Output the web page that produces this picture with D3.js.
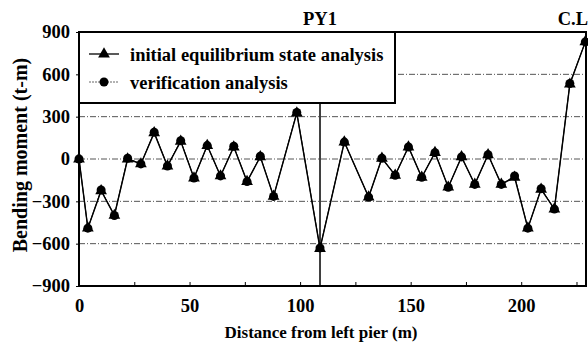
<!DOCTYPE html>
<html>
<head>
<meta charset="utf-8">
<script src="https://cdn.jsdelivr.net/npm/d3@7"></script>
<style>
 body { margin: 0; background: #fff; }
</style>
</head>
<body>
<div id="chart"></div>
<script>
const distance = [0, 4, 10, 16, 22, 28, 34, 40, 46, 52, 58, 64, 70, 76, 82, 88, 98.5, 109,
 120, 131, 137, 143, 149, 155, 161, 167, 173, 179, 185, 191, 197, 203, 209, 215, 222, 229];
const initialEq = [0, -490, -225, -400, 0, -35, 185, -50, 125, -135, 95, -120, 85, -160, 15, -265, 325, -635,
 120, -270, 5, -115, 85, -130, 45, -200, 15, -180, 30, -180, -130, -490, -215, -355, 530, 830];
const verification = [0, -490, -220, -400, 5, -35, 190, -50, 130, -135, 95, -120, 90, -160, 20, -265, 330, -630,
 120, -270, 5, -115, 85, -130, 45, -200, 15, -180, 30, -180, -120, -490, -210, -355, 535, 830];
const yTicks = [-900, -600, -300, 0, 300, 600, 900];
const xTicks = [0, 50, 100, 150, 200];
const legendLabels = ["initial equilibrium state analysis", "verification analysis"];
const pierX = 109;

const FONT = "'Liberation Serif', 'DejaVu Serif', serif";
const W = 588, H = 344;
const margin = { top: 32, right: 2, bottom: 58, left: 79 };
const width = W - margin.left - margin.right;
const height = H - margin.top - margin.bottom;

const svg = d3.select("#chart").append("svg").attr("width", W).attr("height", H);
const g = svg.append("g").attr("transform", `translate(${margin.left},${margin.top})`);

const x = d3.scaleLinear().domain([0, 229.3]).range([0, width]);
const y = d3.scaleLinear().domain([-900, 900]).range([height, 0]);

// grid
g.selectAll(".grid").data(yTicks.filter((d) => Math.abs(d) < 900)).enter()
 .append("line")
 .attr("x1", 0).attr("x2", width)
 .attr("y1", (d) => y(d)).attr("y2", (d) => y(d))
 .attr("stroke", "#555").attr("stroke-width", 1)
 .attr("stroke-dasharray", "6,2,1,2");

// axes
const yAxis = g.append("g").call(d3.axisLeft(y).tickValues(yTicks).tickSize(3).tickPadding(6));
yAxis.attr("font-family", FONT).attr("font-size", 18.5).attr("font-weight", "bold");
yAxis.select(".domain").remove();

const xAxis = g.append("g").attr("transform", `translate(0,${height})`)
 .call(d3.axisBottom(x).tickValues(d3.range(0, 230, 25)).tickSize(-4).tickPadding(13)
  .tickFormat((d) => (xTicks.includes(d) ? d : "")));
xAxis.attr("font-family", FONT).attr("font-size", 18.5).attr("font-weight", "bold");
xAxis.select(".domain").remove();

// frame
g.append("rect").attr("width", width).attr("height", height)
 .attr("fill", "none").attr("stroke", "#000").attr("stroke-width", 2);

// pier line
g.append("line").attr("x1", x(pierX)).attr("x2", x(pierX))
 .attr("y1", 0).attr("y2", height).attr("stroke", "#000").attr("stroke-width", 1.5);

const line = d3.line().x((d) => x(d[0])).y((d) => y(d[1]));
const s1 = distance.map((d, i) => [d, initialEq[i]]);
const s2 = distance.map((d, i) => [d, verification[i]]);

g.append("path").datum(s2).attr("d", line).attr("fill", "none")
 .attr("stroke", "#000").attr("stroke-width", 1);
g.append("path").datum(s1).attr("d", line).attr("fill", "none")
 .attr("stroke", "#000").attr("stroke-width", 1.4);

const tri = d3.symbol().type(d3.symbolTriangle).size(60);
g.selectAll(".tri").data(s1).enter().append("path")
 .attr("d", tri).attr("transform", (d) => `translate(${x(d[0])},${y(d[1])})`).attr("fill", "#000");
g.selectAll(".dot").data(s2).enter().append("circle")
 .attr("cx", (d) => x(d[0])).attr("cy", (d) => y(d[1])).attr("r", 4.5).attr("fill", "#000");

// legend
const legend = g.append("g").attr("font-family", FONT).attr("font-weight", "bold");
legend.append("rect").attr("x", 0).attr("y", 0).attr("width", 316).attr("height", 71)
 .attr("fill", "#fff").attr("stroke", "#000").attr("stroke-width", 2);
legendLabels.forEach((lab, i) => {
 const ly = 22 + i * 28;
 legend.append("line").attr("x1", 10).attr("x2", 40).attr("y1", ly).attr("y2", ly)
  .attr("stroke", i === 0 ? "#000" : "#666").attr("stroke-width", i === 0 ? 1.3 : 1)
  .attr("stroke-dasharray", i === 0 ? null : "2,1");
 if (i === 0) {
  legend.append("path").attr("d", tri).attr("transform", `translate(25,${ly})`).attr("fill", "#000");
 } else {
  legend.append("circle").attr("cx", 25).attr("cy", ly).attr("r", 4.5).attr("fill", "#000");
 }
 legend.append("text").attr("x", 51).attr("y", ly + 7).attr("font-size", 18.5).text(lab);
});

// labels
const labels = svg.append("g").attr("font-family", FONT).attr("font-weight", "bold");
labels.append("text").attr("x", margin.left + x(pierX)).attr("y", 25)
 .attr("text-anchor", "middle").attr("font-size", 18.5).text("PY1");
labels.append("text").attr("x", 588).attr("y", 25)
 .attr("text-anchor", "end").attr("font-size", 18.5).text("C.L");
labels.append("text").attr("x", 321).attr("y", 338)
 .attr("text-anchor", "middle").attr("font-size", 17).text("Distance from left pier (m)");
labels.append("text").attr("transform", `translate(27,155) rotate(-90)`)
 .attr("text-anchor", "middle").attr("font-size", 20).text("Bending moment (t-m)");
</script>
</body>
</html>
